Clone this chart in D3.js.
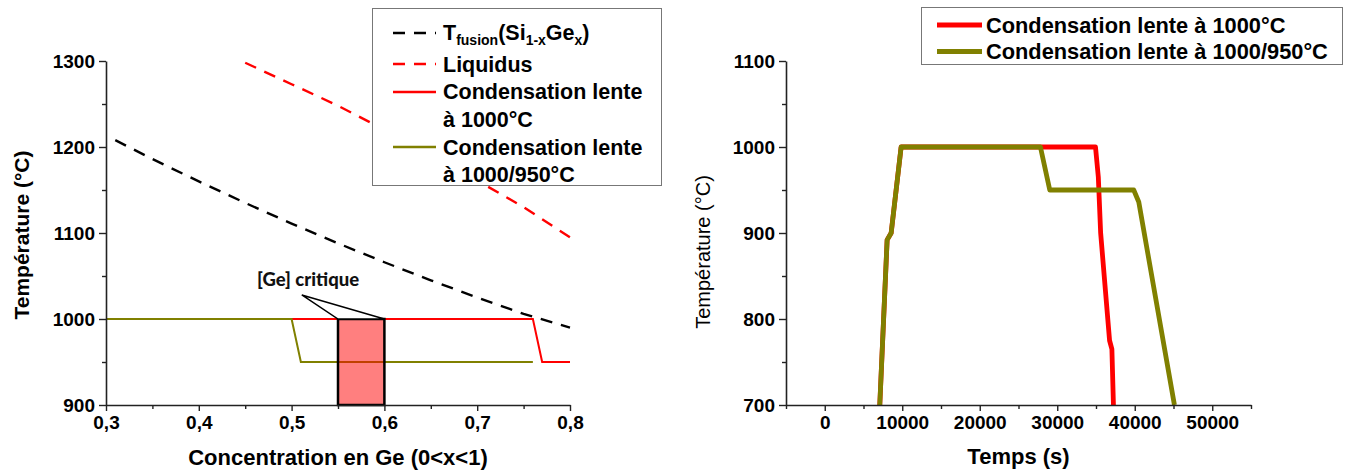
<!DOCTYPE html>
<html><head><meta charset="utf-8">
<script src="https://cdn.jsdelivr.net/npm/d3@7"></script>
<style>
html,body{margin:0;padding:0;background:#fff;}
svg{display:block;font-family:"Liberation Sans",Arial,sans-serif;}
</style></head>
<body>
<svg id="chart" width="1349" height="473"></svg>
<script>
// ---------- Left chart data ----------
const leftXTicks = [0.3, 0.4, 0.5, 0.6, 0.7, 0.8];
const leftXTickLabels = ["0,3", "0,4", "0,5", "0,6", "0,7", "0,8"];
const leftXMinor = [0.35, 0.45, 0.55, 0.65, 0.75];
const leftYTicks = [900, 1000, 1100, 1200, 1300];
const leftYTickLabels = ["900", "1000", "1100", "1200", "1300"];
const leftYMinor = [950, 1050, 1150, 1250];

const tfusionX = [0.31, 0.35, 0.4, 0.45, 0.5, 0.55, 0.6, 0.65, 0.7, 0.75, 0.8];
const tfusionT = [1208, 1186, 1160, 1135, 1111, 1088, 1066, 1045, 1025, 1006, 990];

const liquidusX = [0.45, 0.5, 0.55, 0.6, 0.65, 0.7, 0.75, 0.8];
const liquidusT = [1298, 1273, 1248, 1220, 1191, 1161, 1130, 1095];

const cond1000X = [0.3, 0.76, 0.77, 0.8];
const cond1000T = [1000, 1000, 950, 950];

const cond950X = [0.3, 0.5, 0.51, 0.76];
const cond950T = [1000, 1000, 950, 950];

const criticalX = [0.55, 0.6];
const criticalT = [900, 1000];
const calloutApex = [0.511, 1028];
const calloutLabel = "[Ge] critique";
const calloutLabelPos = [0.4627, 1038];

const leftLegendLabels = [
  null, // T_fusion (built with subscripts)
  "Liquidus",
  ["Condensation lente", "à 1000°C"],
  ["Condensation lente", "à 1000/950°C"]
];

// ---------- Right chart data ----------
const rightXTicks = [0, 10000, 20000, 30000, 40000, 50000];
const rightXTickLabels = ["0", "10000", "20000", "30000", "40000", "50000"];
const rightXMinor = [-5000, 5000, 15000, 25000, 35000, 45000, 55000];
const rightYTicks = [700, 800, 900, 1000, 1100];
const rightYTickLabels = ["700", "800", "900", "1000", "1100"];
const rightYMinor = [750, 850, 950, 1050];

const time1000 = [7100, 8050, 8570, 9855, 10200, 34935, 35300, 35600, 36750, 37050, 37250];
const temp1000 = [700, 892, 900, 1000, 1000, 1000, 965, 900, 775, 765, 700];

const time950 = [7100, 8050, 8570, 9855, 10200, 27830, 29035, 29400, 39870, 40520, 45120];
const temp950 = [700, 892, 900, 1000, 1000, 1000, 950, 950, 950, 936, 700];

const rightLegendLabels = ["Condensation lente à 1000°C", "Condensation lente à 1000/950°C"];

const RED = "#ff0000", OLIVE = "#808000";

// ---------- Drawing ----------
const svg = d3.select("#chart");
const zip = (a, b) => a.map((v, i) => [v, b[i]]);

function drawAxes(g, x, y, xt, xl, xm, yt, yl, ym, tickFont) {
  const axColor = "#222";
  g.append("g").attr("transform", `translate(0,${y.range()[0]})`)
    .call(d3.axisBottom(x).tickValues(xt).tickFormat((d, i) => xl[i]).tickSize(6).tickPadding(5).tickSizeOuter(0));
  g.append("g").attr("transform", `translate(0,${y.range()[0]})`)
    .call(d3.axisBottom(x).tickValues(xm).tickFormat("").tickSize(4).tickSizeOuter(0))
    .select(".domain").remove();
  g.append("g").attr("transform", `translate(${x.range()[0]},0)`)
    .call(d3.axisLeft(y).tickValues(yt).tickFormat((d, i) => yl[i]).tickSize(7).tickPadding(4).tickSizeOuter(0));
  g.append("g").attr("transform", `translate(${x.range()[0]},0)`)
    .call(d3.axisLeft(y).tickValues(ym).tickFormat("").tickSize(4).tickSizeOuter(0))
    .select(".domain").remove();
  g.selectAll(".domain").attr("stroke", axColor).attr("stroke-width", 1.6);
  g.selectAll(".tick line").attr("stroke", axColor).attr("stroke-width", 1.4);
  g.selectAll(".tick text").attr("fill", "#000").style("font-size", tickFont + "px")
    .style("font-weight", "bold").style("font-family", '"Liberation Sans", Arial, sans-serif');
}

// ===== LEFT CHART =====
const xL = d3.scaleLinear().domain([0.3, 0.8]).range([106, 570]);
const yL = d3.scaleLinear().domain([900, 1300]).range([405, 61]);
const gL = svg.append("g");
const lineL = d3.line().x(d => xL(d[0])).y(d => yL(d[1]));

gL.append("path").datum(zip(tfusionX, tfusionT)).attr("d", lineL)
  .attr("fill", "none").attr("stroke", "#000").attr("stroke-width", 2.4).attr("stroke-dasharray", "12,9");
gL.append("path").datum(zip(liquidusX, liquidusT)).attr("d", lineL)
  .attr("fill", "none").attr("stroke", RED).attr("stroke-width", 2.4).attr("stroke-dasharray", "12,9");
gL.append("path").datum(zip(cond1000X, cond1000T)).attr("d", lineL)
  .attr("fill", "none").attr("stroke", RED).attr("stroke-width", 2);
gL.append("path").datum(zip(cond950X, cond950T)).attr("d", lineL)
  .attr("fill", "none").attr("stroke", OLIVE).attr("stroke-width", 2);

// critical rectangle
gL.append("rect")
  .attr("x", xL(criticalX[0])).attr("y", yL(criticalT[1]))
  .attr("width", xL(criticalX[1]) - xL(criticalX[0]))
  .attr("height", yL(criticalT[0]) - yL(criticalT[1]))
  .attr("fill", RED).attr("fill-opacity", 0.5)
  .attr("stroke", "#000").attr("stroke-width", 2.5);
// callout pointer
gL.append("path")
  .datum([calloutApex, [criticalX[0], criticalT[1]], [criticalX[1], criticalT[1]]])
  .attr("d", d => lineL(d) + "Z")
  .attr("fill", "#fff").attr("stroke", "#000").attr("stroke-width", 1.5).attr("stroke-linejoin", "miter");
gL.append("text").attr("x", xL(calloutLabelPos[0])).attr("y", yL(calloutLabelPos[1]))
  .text(calloutLabel).style("font-family", "Lato, 'Open Sans', sans-serif")
  .style("font-weight", "900").style("font-size", "18.5px").attr("fill", "#111");

drawAxes(gL, xL, yL, leftXTicks, leftXTickLabels, leftXMinor, leftYTicks, leftYTickLabels, leftYMinor, 19);

gL.append("text").attr("x", (xL.range()[0] + xL.range()[1]) / 2).attr("y", 465)
  .attr("text-anchor", "middle").style("font-size", "22px").style("font-weight", "bold")
  .text("Concentration en Ge (0<x<1)");
gL.append("text").attr("transform", "translate(29,235) rotate(-90)")
  .attr("text-anchor", "middle").style("font-size", "21px").style("font-weight", "bold")
  .text("Température (°C)");

// left legend
const legL = svg.append("g");
legL.append("rect").attr("x", 372.5).attr("y", 8.5).attr("width", 289).attr("height", 177)
  .attr("fill", "#fff").attr("stroke", "#777").attr("stroke-width", 1);
const lx0 = 393, lx1 = 436, tx = 443, fs = "21.5px";
const legRows = [
  {y: 33, stroke: "#000", dash: "12,9", base: [40]},
  {y: 64, stroke: RED, dash: "12,9", base: [71.5]},
  {y: 92, stroke: RED, dash: null, base: [99, 127]},
  {y: 147, stroke: OLIVE, dash: null, base: [155, 181.5]}
];
legRows.forEach((r, i) => {
  legL.append("line").attr("x1", lx0).attr("x2", lx1).attr("y1", r.y).attr("y2", r.y)
    .attr("stroke", r.stroke).attr("stroke-width", 2.4).attr("stroke-dasharray", r.dash);
  if (i === 0) {
    const t = legL.append("text").attr("x", tx).attr("y", r.base[0])
      .style("font-size", fs).style("font-weight", "bold");
    t.append("tspan").text("T");
    t.append("tspan").text("fusion").style("font-size", "14px").attr("dy", 5);
    t.append("tspan").text("(Si").attr("dy", -5);
    t.append("tspan").text("1-x").style("font-size", "14px").attr("dy", 5);
    t.append("tspan").text("Ge").attr("dy", -5);
    t.append("tspan").text("x").style("font-size", "14px").attr("dy", 5);
    t.append("tspan").text(")").attr("dy", -5);
  } else {
    const lab = leftLegendLabels[i];
    const lines = Array.isArray(lab) ? lab : [lab];
    lines.forEach((s, k) => {
      legL.append("text").attr("x", tx).attr("y", r.base[k])
        .style("font-size", fs).style("font-weight", "bold").text(s);
    });
  }
});

// ===== RIGHT CHART =====
const xR = d3.scaleLinear().domain([-5000, 55000]).range([786, 1251]);
const yR = d3.scaleLinear().domain([700, 1100]).range([405, 61]);
const gR = svg.append("g");
const lineR = d3.line().x(d => xR(d[0])).y(d => yR(d[1]));

gR.append("path").datum(zip(time1000, temp1000)).attr("d", lineR)
  .attr("fill", "none").attr("stroke", RED).attr("stroke-width", 4.8)
  .attr("stroke-linejoin", "round").attr("stroke-linecap", "butt");
gR.append("path").datum(zip(time950, temp950)).attr("d", lineR)
  .attr("fill", "none").attr("stroke", OLIVE).attr("stroke-width", 4.8)
  .attr("stroke-linejoin", "round").attr("stroke-linecap", "butt");

drawAxes(gR, xR, yR, rightXTicks, rightXTickLabels, rightXMinor, rightYTicks, rightYTickLabels, rightYMinor, 19);

gR.append("text").attr("x", (xR.range()[0] + xR.range()[1]) / 2).attr("y", 464)
  .attr("text-anchor", "middle").style("font-size", "22px").style("font-weight", "bold")
  .text("Temps (s)");
gR.append("text").attr("transform", "translate(710,252) rotate(-90)")
  .attr("text-anchor", "middle").style("font-size", "20px").style("font-weight", "normal")
  .text("Température (°C)");

// right legend
const legR = svg.append("g");
legR.append("rect").attr("x", 921.5).attr("y", 7.5).attr("width", 421).attr("height", 57)
  .attr("fill", "#fff").attr("stroke", "#777").attr("stroke-width", 1);
[RED, OLIVE].forEach((c, i) => {
  const yy = [25, 51.5][i];
  legR.append("line").attr("x1", 937).attr("x2", 982).attr("y1", yy).attr("y2", yy)
    .attr("stroke", c).attr("stroke-width", 4.8);
  legR.append("text").attr("x", 986).attr("y", yy + 7.5)
    .style("font-size", "21.8px").style("font-weight", "bold").text(rightLegendLabels[i]);
});
</script>
</body></html>
